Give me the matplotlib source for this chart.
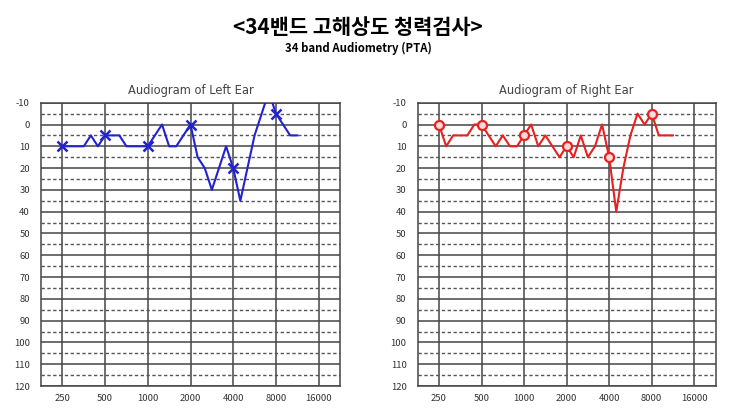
import numpy as np
import matplotlib
matplotlib.use("Agg")
import matplotlib.pyplot as plt
from matplotlib.ticker import FixedLocator, NullFormatter, NullLocator

plt.rcParams['font.family'] = ['Noto Sans CJK KR', 'DejaVu Sans']

# ------------------------------------------------------------
#   datos (34 bandas, pasos de 1/6 de octava)
# ------------------------------------------------------------
freqs = [250, 281, 315, 354, 397, 445, 500, 561, 630, 707, 794, 891,
         1000, 1122, 1260, 1414, 1587, 1782, 2000, 2245, 2520, 2828,
         3175, 3564, 4000, 4490, 5040, 5657, 6350, 7127, 8000, 8980,
         10079, 11314]

left_db = [10, 10, 10, 10, 5, 10, 5, 5, 5, 10, 10, 10,
           10, 5, 0, 10, 10, 5, 0, 15, 20, 30,
           20, 10, 20, 35, 20, 5, -5, -15, -5, 0,
           5, 5]

right_db = [0, 10, 5, 5, 5, 0, 0, 5, 10, 5, 10, 10,
            5, 0, 10, 5, 10, 15, 10, 15, 5, 15,
            10, 0, 15, 40, 20, 5, -5, 0, -5, 5,
            5, 5]

octave_ticks = [250, 500, 1000, 2000, 4000, 8000, 16000]
db_ticks = list(range(-10, 121, 10))
marker_idx = [0, 6, 12, 18, 24, 30]

title_main = "<34밴드 고해상도 청력검사>"
title_sub = "34 band Audiometry (PTA)"
ear_titles = ["Audiogram of Left Ear", "Audiogram of Right Ear"]


def draw_audiogram(ax, values, color, marker, title):
    ax.set_xscale("log", base=2)
    ax.set_xlim(250 / np.sqrt(2), 16000 * np.sqrt(2))
    ax.set_ylim(120, -10)

    ax.xaxis.set_major_locator(FixedLocator(octave_ticks))
    ax.set_xticklabels([str(t) for t in octave_ticks])
    ax.xaxis.set_minor_locator(NullLocator())
    ax.xaxis.set_minor_formatter(NullFormatter())
    ax.yaxis.set_major_locator(FixedLocator(db_ticks))
    ax.set_yticklabels([str(t) for t in db_ticks])
    ax.yaxis.set_minor_locator(FixedLocator([d + 5 for d in db_ticks[:-1]]))

    ax.grid(which="major", axis="both", color="#454545", lw=1.1, ls="-")
    ax.grid(which="minor", axis="y", color="#555555", lw=1.0, ls=(0, (2.4, 1.8)))
    ax.set_axisbelow(True)

    ax.tick_params(which="both", length=0, labelsize=6.8, colors="#333333")
    ax.tick_params(axis="y", pad=8)
    ax.tick_params(axis="x", pad=6)
    for s in ax.spines.values():
        s.set_color("#454545")
        s.set_linewidth(1.1)

    if marker == "x":
        ax.plot(freqs, values, color=color, lw=1.5, marker="x", ms=7, mew=1.8,
                markevery=marker_idx, zorder=3)
    else:
        ax.plot(freqs, values, color=color, lw=1.5, marker="o", ms=6.5, mew=1.6,
                mfc="#ffd8d8", mec=color, markevery=marker_idx, zorder=3)

    ax.set_title(title, fontsize=8.3, color="#444444", pad=6, family="DejaVu Sans")


fig = plt.figure(figsize=(7.43, 4.17), dpi=100)
ax_l = fig.add_axes([0.0552, 0.0743, 0.4024, 0.6794])
ax_r = fig.add_axes([0.5622, 0.0743, 0.4008, 0.6794])

draw_audiogram(ax_l, left_db, "#2222d0", "x", ear_titles[0])
draw_audiogram(ax_r, right_db, "#e82020", "o", ear_titles[1])

fig.text(0.482, 0.933, title_main, ha="center", va="center", fontsize=15, fontweight="bold")
fig.text(0.482, 0.885, title_sub, ha="center", va="center", fontsize=8.2, fontweight="bold")

fig.savefig("out.png", dpi=100)
